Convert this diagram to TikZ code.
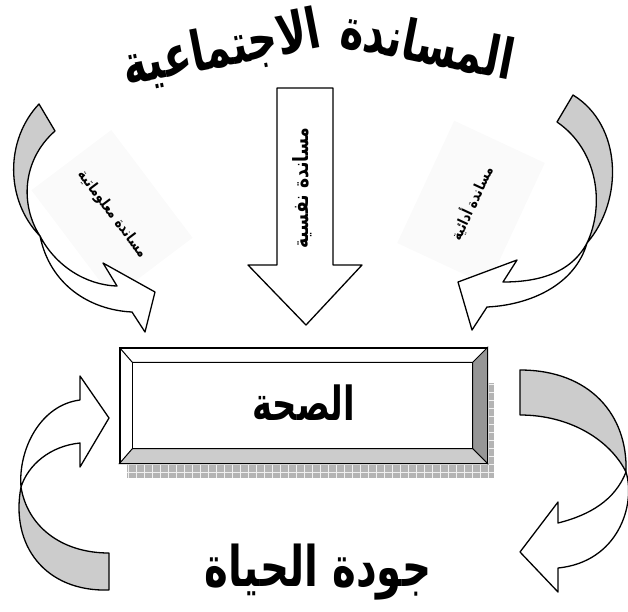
\documentclass[tikz,border=0pt]{standalone}
\usepackage{fontspec}
\usepackage{tikz}
\usetikzlibrary{calc}
\newfontfamily\arabicfont[Script=Arabic, FakeStretch=0.82]{DejaVu Sans}
\newfontfamily\arabictall[Script=Arabic, FakeStretch=0.72]{DejaVu Sans}
\TeXXeTstate=1
\definecolor{backgray}{RGB}{204,204,204}
\definecolor{bevelgray}{RGB}{150,150,150}
\definecolor{shadowgray}{RGB}{180,180,180}

\begin{document}
\begin{tikzpicture}[
    x=1pt, y=-1pt,
    ribbon/.style={draw=black, line width=1.3pt, line join=round},
    back/.style={ribbon, fill=backgray},
    front/.style={ribbon, fill=white},
    bigtext/.style={font=\arabictall\bfseries\fontsize{56}{60}\selectfont, inner sep=0pt},
    tagtext/.style={font=\arabicfont\bfseries\fontsize{15}{18}\selectfont, fill=black!2, minimum width=135pt, minimum height=100pt}
]
\useasboundingbox (0,0) rectangle (628,611);

% Title
\node[bigtext, rotate=-11] (titleR) at (428,43) {\beginR المساندة\endR};
\node[bigtext, rotate=11] (titleL) at (222,50) {\beginR الاجتماعية\endR};

% Side labels
\node[tagtext, rotate=-53] (info) at (112,214) {\beginR مساندة معلوماتية\endR};
\node[tagtext, rotate=65] (instr) at (471,203) {\beginR مساندة أدائية\endR};

% Curved arrows (top)
\draw[back] (39,104) .. controls (5,140) and (5,200) .. (40,236) .. controls (20,205) and (22,160) .. (55,131) -- cycle;
\draw[front] (40,236) .. controls (50,285) and (90,310) .. (132,312) -- (145,332) -- (155,292) -- (103,263) -- (117,286) .. controls (85,285) and (55,265) .. (40,236) -- cycle;
\draw[back] (573,95) .. controls (622,125) and (624,200) .. (587,243) .. controls (605,205) and (598,150) .. (557,122) -- cycle;
\draw[front] (587,243) .. controls (575,285) and (530,305) .. (487,307) -- (472,330) -- (458,282) -- (517,260) -- (503,282) .. controls (535,282) and (570,275) .. (587,243) -- cycle;

% Down arrow
\draw[front] (277,88) -- (333,88) -- (333,265) -- (362,265) -- (306,325) -- (248,265) -- (277,265) -- cycle;
\node[font=\arabicfont\bfseries\fontsize{21}{25}\selectfont, rotate=90] (psych) at (302,188) {\beginR مساندة نفسية\endR};

% Health box
\fill[shadowgray] (127,383) rectangle (494,478);
\draw[white!80!shadowgray, line width=0.6pt, step=8pt] (127,383) grid (494,478);
\node[draw, fill=white, line width=1.3pt, minimum width=367pt, minimum height=115pt] (box) at (303.5,405.5) {};
\coordinate (inNW) at ($(box.north west)+(13,15)$);
\coordinate (inNE) at ($(box.north east)+(-15,15)$);
\coordinate (inSE) at ($(box.south east)+(-15,-15)$);
\coordinate (inSW) at ($(box.south west)+(13,-15)$);
\draw[line width=1pt, fill=bevelgray] (box.north east) -- (box.south east) -- (inSE) -- (inNE) -- cycle;
\draw[line width=1pt, fill=backgray] (box.south west) -- (box.south east) -- (inSE) -- (inSW) -- cycle;
\draw[line width=1pt] (box.north west) -- (inNW) -- (inNE);
\draw[line width=1pt] (inNW) -- (inSW);
\draw[line width=1.3pt] (box.north west) rectangle (box.south east);
\node[font=\arabictall\bfseries\fontsize{47}{52}\selectfont] (health) at ($(box.center)+(0,-3)$) {\beginR الصحة\endR};

% Curved arrows (bottom)
\draw[back] (21,487) .. controls (27,525) and (60,553) .. (109,553) -- (109,590) .. controls (45,592) and (10,545) .. (21,487) -- cycle;
\draw[front] (21,487) .. controls (18,450) and (40,405) .. (80,400) -- (80,376) -- (109,418) -- (80,467) -- (80,443) .. controls (50,446) and (28,465) .. (21,487) -- cycle;
\draw[back] (520,370) .. controls (590,370) and (628,415) .. (626,472) .. controls (610,440) and (570,415) .. (520,415) -- cycle;
\draw[front] (626,472) .. controls (636,505) and (618,562) .. (558,568) -- (558,592) -- (520,552) -- (558,502) -- (558,523) .. controls (590,515) and (615,500) .. (626,472) -- cycle;

% Quality of life
\node[bigtext] (quality) at (318,572) {\beginR جودة الحياة\endR};
\end{tikzpicture}
\end{document}
